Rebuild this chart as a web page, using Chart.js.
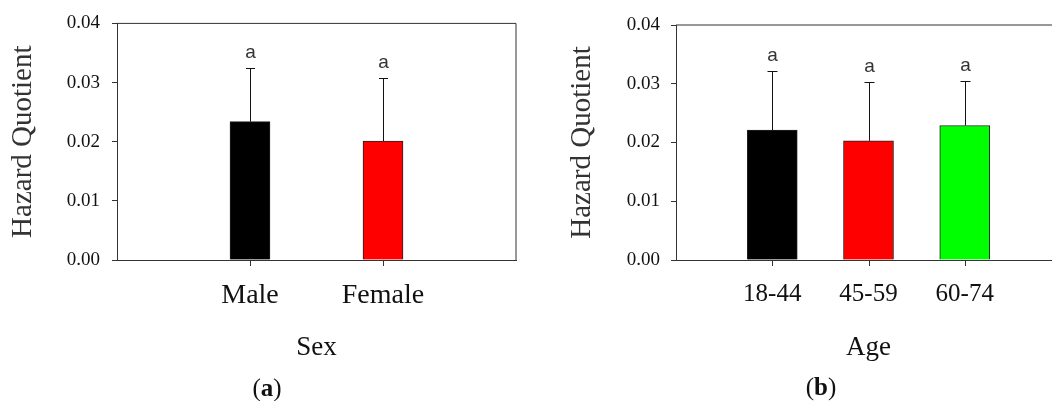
<!DOCTYPE html>
<html>
<head>
<meta charset="utf-8">
<script src="https://cdn.jsdelivr.net/npm/chart.js@4.4.0/dist/chart.umd.min.js"></script>
<style>
  html, body { margin: 0; padding: 0; background: #fff; overflow: hidden; width: 1052px; height: 401px; }
  #wrapA { position: absolute; left: 0; top: 0; width: 530px; height: 401px; }
  #wrapB { position: absolute; left: 530px; top: 0; width: 545px; height: 401px; }
  .cap { position: absolute; font-family: "Liberation Serif", serif; font-size: 25px; color: #111;
         transform: translate(-50%, -50%); white-space: nowrap; }
</style>
</head>
<body>
<div id="wrapA"><canvas id="chartSex"></canvas></div>
<div id="wrapB"><canvas id="chartAge"></canvas></div>
<div class="cap" style="left:267px; top:388px;">(<b>a</b>)</div>
<div class="cap" style="left:821px; top:387px;">(<b>b</b>)</div>

<script>
// panel (a) - sex
const sexLabels = ["", "Male", "Female", ""];
const sexMeans = [null, 0.0234, 0.0201, null];
const sexErrors = [null, 0.0090, 0.0107, null];
const sexColors = [null, "#000000", "#ff0000", null];
const sexLetters = [null, "a", "a", null];

// panel (b) - age
const ageLabels = ["", "18-44", "45-59", "60-74", ""];
const ageMeans = [null, 0.0221, 0.0203, 0.0229, null];
const ageErrors = [null, 0.0100, 0.0100, 0.0076, null];
const ageColors = [null, "#000000", "#ff0000", "#00ff00", null];
const ageLetters = [null, "a", "a", "a", null];

// y axis
const yMin = 0;
const yMax = 0.04;
const yStep = 0.01;

const serif = "'Liberation Serif', 'Times New Roman', serif";

// draws the error bar (upper only) and the letter above each bar
const errorBars = {
  id: "errorBars",
  afterDatasetsDraw(chart, args, opts) {
    const ctx = chart.ctx;
    const yScale = chart.scales.y;
    const xScale = chart.scales.x;
    const data = chart.data.datasets[0].data;
    ctx.save();
    data.forEach((v, i) => {
      if (v == null) return;
      const x = Math.round(xScale.getPixelForTick(i)) + 0.5;
      const yBar = yScale.getPixelForValue(v);
      const yTop = Math.round(yScale.getPixelForValue(v + opts.errors[i])) + 0.5;
      ctx.strokeStyle = "#111";
      ctx.lineWidth = 1;
      ctx.beginPath();
      ctx.moveTo(x, yBar);
      ctx.lineTo(x, yTop);
      ctx.moveTo(x - opts.cap / 2, yTop);
      ctx.lineTo(x + opts.cap / 2, yTop);
      ctx.stroke();
      ctx.fillStyle = "#333";
      ctx.font = "19px 'Liberation Sans', Arial, sans-serif";
      ctx.textAlign = "center";
      ctx.textBaseline = "alphabetic";
      ctx.fillText(opts.letters[i], x, yTop - 11);
    });
    ctx.restore();
  },
};

// top and right border of the plot box, plus the tick under each category
const frame = {
  id: "frame",
  afterDraw(chart) {
    const { ctx, chartArea } = chart;
    const xScale = chart.scales.x;
    const data = chart.data.datasets[0].data;
    ctx.save();
    ctx.strokeStyle = "#333";
    ctx.lineWidth = 1;
    ctx.beginPath();
    ctx.moveTo(chartArea.left, chartArea.top);
    ctx.lineTo(chartArea.right, chartArea.top);
    ctx.lineTo(chartArea.right, chartArea.bottom);
    data.forEach((v, i) => {
      if (v == null) return;
      const x = Math.round(xScale.getPixelForTick(i)) + 0.5;
      ctx.moveTo(x, chartArea.bottom);
      ctx.lineTo(x, chartArea.bottom + 6);
    });
    ctx.stroke();
    ctx.restore();
  },
};

function makeChart(id, labels, means, errors, colors, letters, xTitle, geo) {
  return new Chart(document.getElementById(id), {
    type: "bar",
    data: {
      labels: labels,
      datasets: [{
        data: means,
        backgroundColor: colors.map((c) => c || "transparent"),
        borderColor: "#222",
        borderWidth: 1,
        barThickness: geo.barWidth,
      }],
    },
    options: {
      responsive: true,
      maintainAspectRatio: false,
      animation: false,
      layout: { padding: { left: 0, top: geo.padTop, right: geo.padRight, bottom: 0 } },
      plugins: {
        legend: { display: false },
        tooltip: { enabled: false },
        errorBars: { errors: errors, letters: letters, cap: geo.cap },
      },
      scales: {
        x: {
          offset: false,
          afterFit: (scale) => { scale.height = 141; },
          grid: {
            offset: false,
            drawOnChartArea: false,
            tickLength: 5,
            color: "rgba(0,0,0,0)",
          },
          border: { color: "#333", width: 1 },
          ticks: {
            padding: 14,
            maxRotation: 0,
            autoSkip: false,
            color: "#111",
            font: { family: serif, size: geo.catSize },
          },
          title: {
            display: true,
            text: xTitle,
            color: "#111",
            font: { family: serif, size: 27 },
            padding: { top: 0, bottom: 37 },
          },
        },
        y: {
          min: yMin,
          max: yMax,
          afterFit: (scale) => { scale.width = geo.yWidth; },
          grid: { drawOnChartArea: false, tickLength: 5, color: "#333" },
          border: { color: "#333", width: 1 },
          ticks: {
            stepSize: yStep,
            padding: geo.tickPad,
            color: "#111",
            font: { family: serif, size: 19 },
            callback: (v) => v.toFixed(2),
          },
          title: {
            display: true,
            text: "Hazard Quotient",
            color: "#333",
            font: { family: serif, size: 29 },
            padding: { top: geo.titlePad, bottom: 0 },
          },
        },
      },
    },
    plugins: [errorBars, frame],
  });
}

makeChart("chartSex", sexLabels, sexMeans, sexErrors, sexColors, sexLetters, "Sex",
  { barWidth: 40, padTop: 20, padRight: 8, yWidth: 117, tickPad: 12, titlePad: 6, cap: 9, catSize: 28 });

makeChart("chartAge", ageLabels, ageMeans, ageErrors, ageColors, ageLetters, "Age",
  { barWidth: 50, padTop: 25, padRight: 11, yWidth: 146, tickPad: 11, titlePad: 35, cap: 10, catSize: 25 });
</script>
</body>
</html>
